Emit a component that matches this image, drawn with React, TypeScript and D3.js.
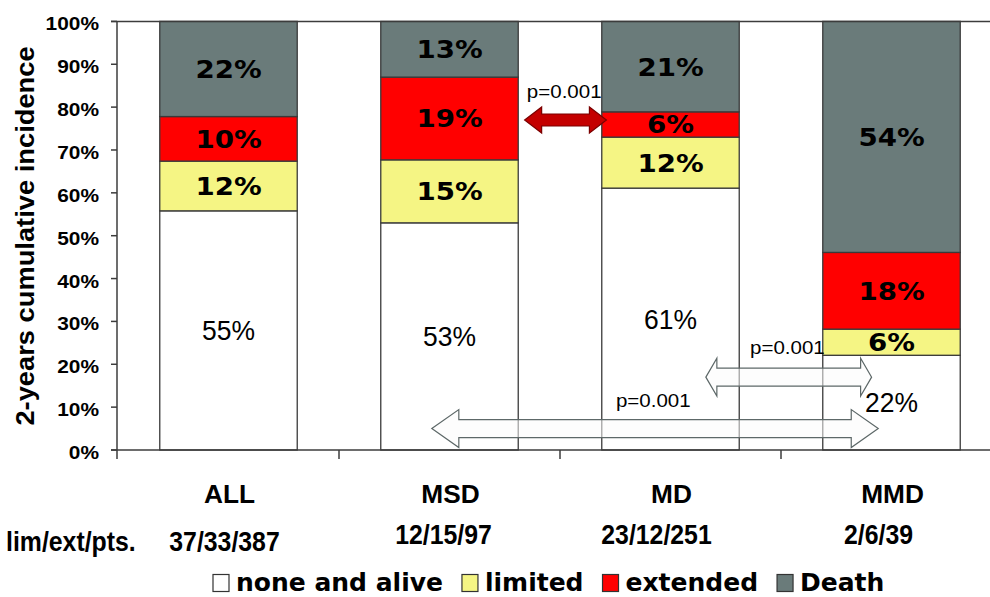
import { useMemo } from "react";
import { scaleBand, scaleLinear, stack, line } from "d3";

const categories = ["ALL", "MSD", "MD", "MMD"];
const counts = ["37/33/387", "12/15/97", "23/12/251", "2/6/39"];

const noneAlive = [55.8, 53.0, 61.1, 22.1];
const limited = [11.6, 14.7, 11.9, 6.1];
const extended = [10.4, 19.3, 5.9, 17.9];
const death = [22.2, 13.0, 21.1, 53.9];

const noneLabels = ["55%", "53%", "61%", "22%"];
const limitedLabels = ["12%", "15%", "12%", "6%"];
const extendedLabels = ["10%", "19%", "6%", "18%"];
const deathLabels = ["22%", "13%", "21%", "54%"];

const yTicks = [0, 10, 20, 30, 40, 50, 60, 70, 80, 90, 100];

// p-value arrows: from/to in category-index units, y in percent
const arrows = [
  { from: 1.34, to: 1.71, y: 77, kind: "red" },
  { from: 2.16, to: 2.91, y: 17, kind: "short" },
  { from: 0.92, to: 2.94, y: 5, kind: "long" },
];
const pLabels = [
  { text: "p=0.001", at: 1.35, y: 82.1 },
  { text: "p=0.001", at: 2.36, y: 22.3 },
  { text: "p=0.001", at: 1.753, y: 10.0 },
];

const keys = ["none", "limited", "extended", "death"] as const;
const legendNames = ["none and alive", "limited", "extended", "Death"];

const COLORS: Record<string, string> = {
  none: "#ffffff",
  limited: "#f5f584",
  extended: "#ff0000",
  death: "#6a7b7a",
};
const LABELS: Record<string, string[]> = {
  none: noneLabels,
  limited: limitedLabels,
  extended: extendedLabels,
  death: deathLabels,
};
const ARROW_STYLE: Record<string, any> = {
  red: { shaft: 6, head: 13, len: 17, fill: "#c40000", stroke: "#7a0000", opacity: 1 },
  short: { shaft: 9, head: 19, len: 11, fill: "#fbfcfc", stroke: "#5d6868", opacity: 0.55 },
  long: { shaft: 9, head: 19, len: 27, fill: "#fbfcfc", stroke: "#5d6868", opacity: 0.55 },
};

const W = 990;
const H = 597;
const ARIAL = "'Liberation Sans', Arial, sans-serif";
const DEJAVU = "'DejaVu Sans', Verdana, sans-serif";
const AXIS = "#3c3c3c";

function SText({
  x,
  y,
  sx = 1,
  anchor = "middle",
  size,
  family = ARIAL,
  weight = "normal",
  fill = "#000",
  children,
}: any) {
  return (
    <text
      transform={sx === 1 ? undefined : `translate(${x},${y}) scale(${sx},1)`}
      x={sx === 1 ? x : undefined}
      y={sx === 1 ? y : undefined}
      textAnchor={anchor}
      fontSize={size}
      fontFamily={family}
      fontWeight={weight}
      fill={fill}
    >
      {children}
    </text>
  );
}

function arrowPath(x0: number, x1: number, y: number, s: any) {
  const pts: [number, number][] = [
    [x0, y],
    [x0 + s.len, y - s.head],
    [x0 + s.len, y - s.shaft],
    [x1 - s.len, y - s.shaft],
    [x1 - s.len, y - s.head],
    [x1, y],
    [x1 - s.len, y + s.head],
    [x1 - s.len, y + s.shaft],
    [x0 + s.len, y + s.shaft],
    [x0 + s.len, y + s.head],
  ];
  return line()(pts) + "Z";
}

export default function App() {
  const x = scaleBand<string>()
    .domain(categories)
    .range([118, 1002])
    .paddingInner(0.378)
    .paddingOuter(0.189);
  const y = scaleLinear().domain([0, 100]).range([450, 21.4]);
  const bw = x.bandwidth();
  const xi = scaleLinear()
    .domain([0, categories.length - 1])
    .range([x(categories[0])! + bw / 2, x(categories[categories.length - 1])! + bw / 2]);

  const series = useMemo(() => {
    const rows = categories.map((c, i) => ({
      cat: c,
      none: noneAlive[i],
      limited: limited[i],
      extended: extended[i],
      death: death[i],
    }));
    return stack<any>().keys(keys as any)(rows);
  }, []);

  const countDx = [-4, -6, -14, -13];
  const countBase = [551, 544, 544, 544];

  // legend layout
  const legendItems = useMemo(() => {
    const ctx = document.createElement("canvas").getContext("2d")!;
    ctx.font = `bold 25px ${DEJAVU}`;
    let cx = 213;
    return legendNames.map((n, i) => {
      const w = ctx.measureText(n).width;
      const item = { name: n, key: keys[i], x: cx };
      cx += 17 + 6 + w + 19;
      return item;
    });
  }, []);

  return (
    <svg
      width={W}
      height={H}
      style={{ position: "absolute", left: 0, top: 0, background: "#fff" }}
    >
      {/* Bars */}
      {series.map((s) =>
        s.map((d: any, i: number) => {
          const y0 = y(d[0]);
          const y1 = y(d[1]);
          const cx = x(categories[i])! + bw / 2;
          const cy = (y0 + y1) / 2;
          const isNone = s.key === "none";
          return (
            <g key={s.key + i}>
              <rect
                x={x(categories[i])}
                y={y1}
                width={bw}
                height={y0 - y1}
                fill={COLORS[s.key]}
                stroke="#3a3a3a"
                strokeWidth={1.3}
              />
              {isNone ? (
                <SText x={cx} y={cy + 9.5} size={27} sx={0.98}>
                  {LABELS[s.key][i]}
                </SText>
              ) : (
                <SText x={cx} y={cy + 9} size={24.5} sx={1.13} family={DEJAVU} weight="bold">
                  {LABELS[s.key][i]}
                </SText>
              )}
            </g>
          );
        })
      )}

      {/* p-value labels */}
      {pLabels.map((p, i) => (
        <SText key={i} x={xi(p.at)} y={y(p.y)} sx={1.08} anchor="start" size={19}>
          {p.text}
        </SText>
      ))}

      {/* Axes */}
      <line x1={111} x2={W} y1={y(100)} y2={y(100)} stroke={AXIS} strokeWidth={1.5} />
      <line x1={111} x2={W} y1={y(0)} y2={y(0)} stroke={AXIS} strokeWidth={1.5} />
      <line x1={117} x2={117} y1={y(100)} y2={459} stroke={AXIS} strokeWidth={1.5} />
      {yTicks.map((t) => (
        <g key={t}>
          <line x1={111} x2={117} y1={y(t)} y2={y(t)} stroke={AXIS} strokeWidth={1.5} />
          <SText x={99} y={y(t) + 9} size={18.5} sx={1.13} anchor="end" weight="bold">
            {t + "%"}
          </SText>
        </g>
      ))}
      {categories.slice(1).map((c) => {
        const bx = x(c)! - (x.step() - bw) / 2;
        return <line key={c} x1={bx} x2={bx} y1={y(0)} y2={459} stroke={AXIS} strokeWidth={1.5} />;
      })}

      {/* Arrows */}
      {arrows.map((a, i) => {
        const s = ARROW_STYLE[a.kind];
        return (
          <path
            key={i}
            d={arrowPath(xi(a.from), xi(a.to), y(a.y), s)}
            fill={s.fill}
            fillOpacity={s.opacity}
            stroke={s.stroke}
            strokeWidth={1.2}
          />
        );
      })}

      {/* Y title */}
      <text
        transform={`translate(34,236) rotate(-90) scale(1.03,1)`}
        textAnchor="middle"
        fontSize={26.5}
        fontFamily={ARIAL}
        fontWeight="bold"
      >
        2-years cumulative incidence
      </text>

      {/* Category labels */}
      {categories.map((c) => (
        <SText key={c} x={x(c)! + bw / 2 + 1} y={503} size={25} sx={1.05} weight="bold">
          {c}
        </SText>
      ))}
      <SText x={6} y={551} size={27} sx={0.92} anchor="start" weight="bold">
        lim/ext/pts.
      </SText>
      {counts.map((c, i) => (
        <SText
          key={c}
          x={x(categories[i])! + bw / 2 + countDx[i]}
          y={countBase[i]}
          size={27}
          sx={0.92}
          weight="bold"
        >
          {c}
        </SText>
      ))}

      {/* Legend */}
      {legendItems.map((it) => (
        <g key={it.name}>
          <rect
            x={it.x}
            y={574.5}
            width={16}
            height={17}
            fill={COLORS[it.key]}
            stroke="#333"
            strokeWidth={1.2}
          />
          <SText x={it.x + 23} y={591} size={25} anchor="start" family={DEJAVU} weight="bold">
            {it.name}
          </SText>
        </g>
      ))}
    </svg>
  );
}
